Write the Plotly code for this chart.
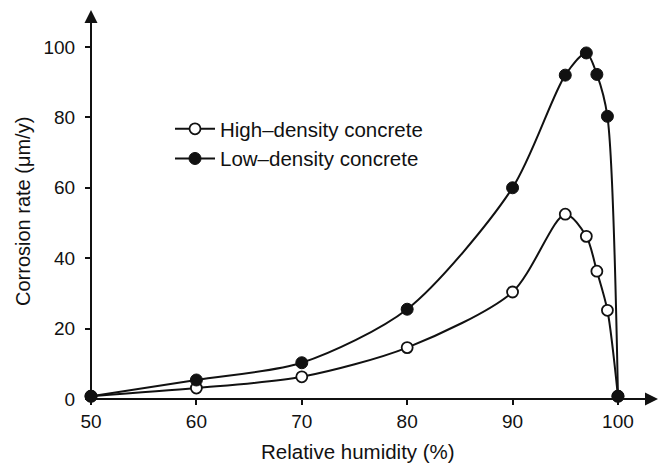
import plotly.graph_objects as go

humidity = [50, 60, 70, 80, 90, 95, 97, 98, 99, 100]
high_density = [0.8, 3.1, 6.3, 14.6, 30.4, 52.5, 46.2, 36.3, 25.2, 0.8]
low_density = [0.8, 5.4, 10.3, 25.5, 60.0, 92.0, 98.3, 92.2, 80.3, 0.8]

x_ticks = [50, 60, 70, 80, 90, 100]
y_ticks = [0, 20, 40, 60, 80, 100]

FONT = "Liberation Sans, Arial, sans-serif"
INK = "#111111"

L, R, T, B = 91, 3, 10, 68
PW, PH = 661 - L - R, 467 - T - B

def px_x(px):
    return (px - L) / PW

def px_y(py):
    return (467 - B - py) / PH

fig = go.Figure()
fig.add_trace(go.Scatter(
    x=humidity, y=high_density, name="High\u2013density concrete",
    mode="lines+markers", line=dict(color=INK, width=2, shape="spline", smoothing=0.8),
    marker=dict(symbol="circle", size=11, color="white", line=dict(color=INK, width=1.8)),
    cliponaxis=False,
))
fig.add_trace(go.Scatter(
    x=humidity, y=low_density, name="Low\u2013density concrete",
    mode="lines+markers", line=dict(color=INK, width=2, shape="spline", smoothing=0.8),
    marker=dict(symbol="circle", size=12, color=INK, line=dict(color=INK, width=1)),
    cliponaxis=False,
))

# axis arrows
fig.add_annotation(x=103.8, y=0, ax=50, ay=0, xref="x", yref="y", axref="x", ayref="y",
                   showarrow=True, arrowhead=2, arrowsize=1.3, arrowwidth=2, arrowcolor=INK, text="")
fig.add_annotation(x=50, y=110.5, ax=50, ay=0, xref="x", yref="y", axref="x", ayref="y",
                   showarrow=True, arrowhead=2, arrowsize=1.3, arrowwidth=2, arrowcolor=INK, text="")
# axis titles
fig.add_annotation(x=px_x(23), y=px_y(212), xref="paper", yref="paper",
                   text="Corrosion rate (\u03bcm/y)", showarrow=False, textangle=-90,
                   font=dict(size=20, color=INK), xanchor="center", yanchor="middle")
fig.add_annotation(x=px_x(358), y=px_y(452), xref="paper", yref="paper",
                   text="Relative humidity (%)", showarrow=False,
                   font=dict(size=20.5, color=INK), xanchor="center", yanchor="middle")

fig.update_layout(
    width=661, height=467,
    margin=dict(l=L, r=R, t=T, b=B),
    paper_bgcolor="white", plot_bgcolor="white",
    font=dict(family=FONT, size=19, color=INK),
    showlegend=True,
    legend=dict(x=px_x(170), y=px_y(109), xanchor="left", yanchor="top",
                bgcolor="rgba(0,0,0,0)", font=dict(size=20.5), itemwidth=40),
)

fig.update_xaxes(
    range=[50, 103.8], tickvals=x_ticks, ticks="outside", ticklen=5, tickwidth=1.5,
    tickcolor=INK, showgrid=False, zeroline=False, showline=False,
)
fig.update_yaxes(
    range=[0, 110.5], tickvals=y_ticks, ticks="outside", ticklen=5, tickwidth=1.5,
    tickcolor=INK, showgrid=False, zeroline=False, showline=False,
    ticklabelstandoff=6,
)

fig.write_html("out.html")
